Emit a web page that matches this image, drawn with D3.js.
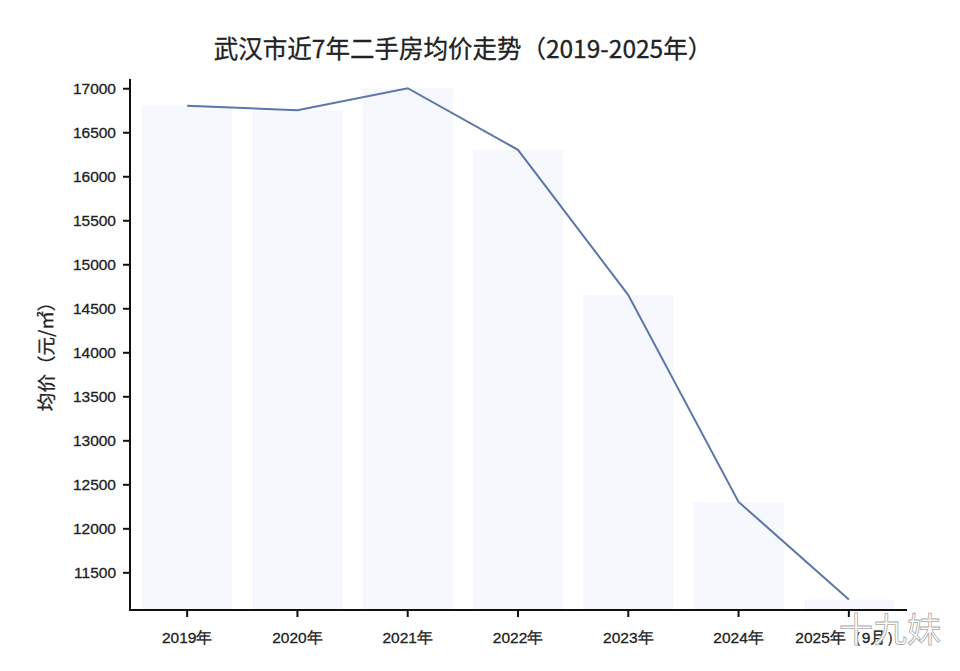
<!DOCTYPE html>
<html><head><meta charset="utf-8">
<script src="https://cdn.jsdelivr.net/npm/d3@7"></script>
<style>body{margin:0;background:#fff;}svg{display:block;font-family:"Noto Sans CJK SC","Noto Sans",sans-serif;}</style>
</head><body>
<svg id="c" width="960" height="671"></svg>
<script>
const categories = ["2019年","2020年","2021年","2022年","2023年","2024年","2025年（9月）"];
const prices = [16800, 16750, 17000, 16300, 14650, 12300, 11190];
const yTicks = [11500,12000,12500,13000,13500,14000,14500,15000,15500,16000,16500,17000];
const title = "武汉市近7年二手房均价走势（2019-2025年）";
const yLabel = "均价（元/㎡）";

const svg = d3.select("#c");
const x = d3.scaleBand().domain(categories).range([132, 904]).paddingInner(0.18).paddingOuter(0.09);
const y = d3.scaleLinear().domain([11072, 17105]).range([610, 79]);

svg.append("g").selectAll("rect").data(prices).join("rect")
  .attr("x", (d,i)=>x(categories[i]))
  .attr("width", x.bandwidth())
  .attr("y", d=>y(d))
  .attr("height", d=>610-y(d))
  .attr("fill", "#f7f8fe");

const line = d3.line().x((d,i)=>x(categories[i])+x.bandwidth()/2).y(d=>y(d));
svg.append("path").datum(prices).attr("d", line)
  .attr("fill","none").attr("stroke","#5b76a9").attr("stroke-width",2);

const ya = svg.append("g").attr("transform","translate(130,0)")
  .call(d3.axisLeft(y).tickValues(yTicks).tickSize(7).tickPadding(7).tickFormat(d3.format("d")));
ya.select(".domain").remove();
ya.selectAll("line").attr("stroke","#111").attr("stroke-width",2);
ya.selectAll("text").attr("font-size",15.5).attr("fill","#222").attr("stroke","#222").attr("stroke-width",0.3);
svg.append("line").attr("x1",130).attr("x2",130).attr("y1",79).attr("y2",611).attr("stroke","#111").attr("stroke-width",2);

const xa = svg.append("g").attr("transform","translate(0,610)")
  .call(d3.axisBottom(x).tickSize(7).tickPadding(15));
xa.select(".domain").remove();
xa.selectAll("line").attr("stroke","#111").attr("stroke-width",2);
xa.selectAll("text").attr("font-size",15.5).attr("fill","#222").attr("stroke","#222").attr("stroke-width",0.3);
svg.append("line").attr("x1",129).attr("x2",907).attr("y1",610).attr("y2",610).attr("stroke","#111").attr("stroke-width",2);

svg.append("text").attr("x",463).attr("y",58).attr("text-anchor","middle")
  .attr("font-size",24.5).attr("fill","#222").attr("stroke","#222").attr("stroke-width",0.3).text(title);

svg.append("text").attr("transform","translate(53,352) rotate(-90)").attr("text-anchor","middle")
  .attr("font-size",18.5).attr("fill","#222").attr("stroke","#222").attr("stroke-width",0.3).text(yLabel);

svg.append("text").attr("x",890).attr("y",642).attr("text-anchor","middle")
  .attr("font-size",34).attr("fill","#fff").attr("stroke","#aaa").attr("stroke-width",0.8).text("十九妹");
</script>
</body></html>
